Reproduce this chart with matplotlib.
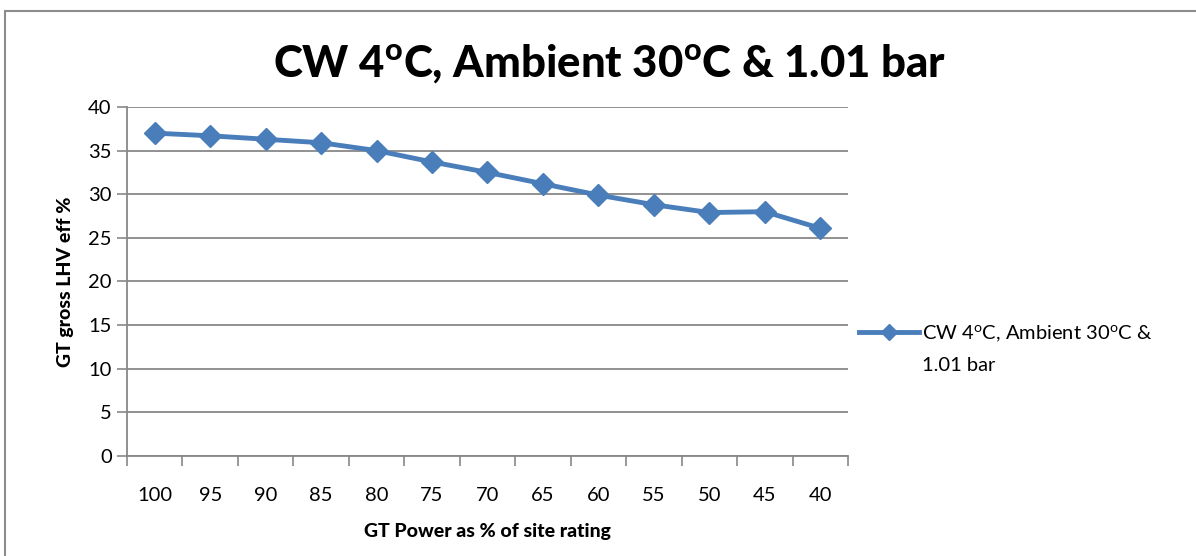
import matplotlib.pyplot as plt
from matplotlib.patches import Rectangle

plt.rcParams['font.family'] = ['Lato', 'DejaVu Sans']

power = ['100', '95', '90', '85', '80', '75', '70', '65', '60', '55', '50', '45', '40']
eff = [37.0, 36.7, 36.3, 35.9, 35.0, 33.7, 32.5, 31.2, 29.9, 28.8, 27.9, 28.0, 26.1]
series_name = 'CW 4$^\\mathregular{o}$C, Ambient 30$^\\mathregular{o}$C &'
series_name_2 = '1.01 bar'
title = 'CW 4$^\\mathregular{o}$C, Ambient 30$^\\mathregular{o}$C & 1.01 bar'

blue = '#4A7EBB'
grey = '#888888'

fig = plt.figure(figsize=(11.96, 5.56), dpi=100)
ax = fig.add_axes([0.1062, 0.1799, 0.6028, 0.6277])

x = list(range(len(power)))
line, = ax.plot(x, eff, color=blue, lw=3.5, marker='D', ms=11, mec=blue, mfc=blue)

ax.set_xlim(-0.5, len(power) - 0.5)
ax.set_ylim(0, 40)
ax.set_yticks(range(0, 41, 5))
ax.set_xticks(x)
ax.set_xticklabels(power)
ax.set_xticks([i - 0.5 for i in range(len(power) + 1)], minor=True)
ax.tick_params(axis='x', which='major', length=0, pad=22, labelsize=14.5)
ax.tick_params(axis='x', which='minor', length=7, color=grey, width=1.2)
ax.tick_params(axis='y', length=7, color=grey, width=1.2, labelsize=14.5, pad=4)
ax.grid(axis='y', color=grey, lw=1.3)
ax.set_axisbelow(True)
for s in ['top', 'right']:
    ax.spines[s].set_visible(False)
for s in ['left', 'bottom']:
    ax.spines[s].set_color(grey)
    ax.spines[s].set_linewidth(1.3)

ax.set_xlabel('GT Power as % of site rating', fontsize=14, fontweight='black', labelpad=14)
ax.set_ylabel('GT gross LHV eff %', fontsize=14, fontweight='black', labelpad=10)
fig.text(0.51, 0.886, title, fontsize=31.5, fontweight='black', ha='center', va='center')

# legend: handle sits on the first line of the wrapped label
leg = fig.legend([line], [series_name], loc='center left', bbox_to_anchor=(0.703, 0.401),
                 frameon=False, fontsize=14.5, handlelength=3.0, handletextpad=0.15,
                 markerscale=0.7)
fig.canvas.draw()
tb = leg.get_texts()[0].get_window_extent().transformed(fig.transFigure.inverted())
fig.text(tb.x0, tb.y0 - 0.025, series_name_2, fontsize=14.5, ha='left', va='top')

fig.add_artist(Rectangle((0.004, -0.01), 1.0, 0.99, transform=fig.transFigure,
                         fill=False, ec='#8c8c8c', lw=1.5))

fig.savefig('out.png', dpi=100)
